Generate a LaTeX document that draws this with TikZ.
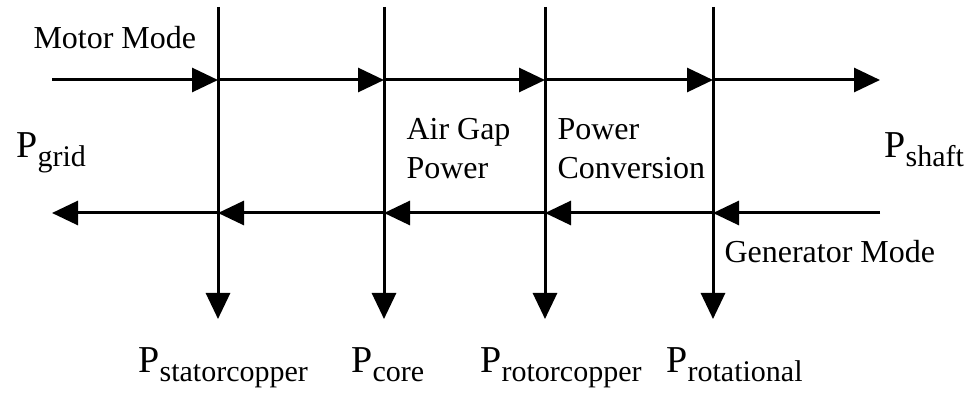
\documentclass[tikz,border=0pt]{standalone}
\usepackage{fontspec}
\setmainfont{Liberation Serif}
\usetikzlibrary{arrows.meta}
\newcommand{\pwr}[1]{{\fontsize{38}{40}\selectfont P}{\fontsize{30}{32}\selectfont\raisebox{-9pt}{#1}}}
\begin{document}
\begin{tikzpicture}[x=1pt, y=-1pt, line width=3pt,
        flow/.style={-{Triangle[length=26pt, width=24pt]}},
        every node/.style={inner sep=0pt, font=\fontsize{32}{39}\selectfont}]
        \fill[white] (0,0) rectangle (967,398);
        \useasboundingbox (0,0) rectangle (967,398);
        \foreach \i/\x in {1/218,2/384,3/545,4/713} {
            \coordinate (top\i) at (\x,7);
            \coordinate (bot\i) at (\x,319);
            \coordinate (m\i) at (\x,80);
            \coordinate (g\i) at (\x,213);
        }
        \coordinate (m0) at (52,80);
        \coordinate (m5) at (880,80);
        \coordinate (g0) at (52,213);
        \coordinate (g5) at (880,213);
        \foreach \a/\b in {0/1,1/2,2/3,3/4,4/5} {
            \draw[flow] (m\a) -- (m\b);
            \draw[flow] (g\b) -- (g\a);
        }
        \foreach \i in {1,...,4} \draw[flow] (top\i) -- (bot\i);
        \node[anchor=base west] (motor) at (32,49) {Motor Mode};
        \node[anchor=base west] (gen) at (723,263) {Generator Mode};
        \node[anchor=north west, align=left] (airgap) at (405,117) {Air Gap\\Power};
        \node[anchor=north west, align=left] (conv) at (556,117) {Power\\Conversion};
        \node[anchor=base west] (grid) at (15,158) {\pwr{grid}};
        \node[anchor=base west] (shaft) at (883,158) {\pwr{shaft}};
        \node[anchor=base west] (stator) at (137,372) {\pwr{statorcopper}};
        \node[anchor=base west] (core) at (350,372) {\pwr{core}};
        \node[anchor=base west] (rotor) at (479,372) {\pwr{rotorcopper}};
        \node[anchor=base west] (rot) at (665,372) {\pwr{rotational}};
    \end{tikzpicture}
\end{document}
